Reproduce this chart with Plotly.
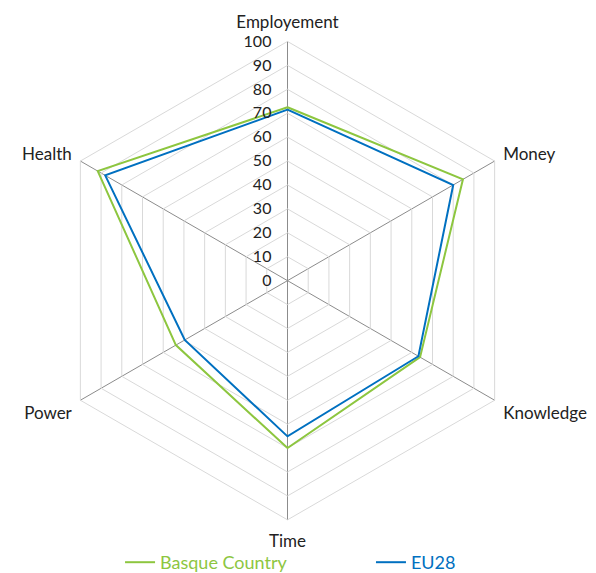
import plotly.graph_objects as go

categories = ["Employement", "Money", "Knowledge", "Time", "Power", "Health"]
basque = [72.5, 84.7, 64.0, 70.0, 53.9, 91.6]
eu28 = [71.5, 80.0, 63.2, 65.1, 49.6, 88.0]
radial_ticks = [0, 10, 20, 30, 40, 50, 60, 70, 80, 90, 100]

GREEN = "#8DC63F"
BLUE = "#0070C0"
FONT = "Lato, 'Open Sans', sans-serif"

fig = go.Figure()
fig.add_trace(go.Scatterpolar(
    r=basque + basque[:1], theta=categories + categories[:1],
    mode="lines", line=dict(color=GREEN, width=2),
    name=f"<span style='color:{GREEN}'>Basque Country</span>",
    legend="legend", showlegend=True,
))
fig.add_trace(go.Scatterpolar(
    r=eu28 + eu28[:1], theta=categories + categories[:1],
    mode="lines", line=dict(color=BLUE, width=2),
    name=f"<span style='color:{BLUE}'>EU28</span>",
    legend="legend2", showlegend=True,
))

W, H = 596, 573
cx, cy, rad = 287 - 7.5, 282 - 5, 243
legend_common = dict(
    orientation="h", xanchor="left", y=0.016, yanchor="middle",
    font=dict(size=18), bgcolor="rgba(0,0,0,0)",
)
fig.update_layout(
    width=W, height=H,
    showlegend=True,
    margin=dict(l=0, r=0, t=0, b=0),
    paper_bgcolor="white", plot_bgcolor="white",
    font=dict(family=FONT, size=17, color="#222222"),
    polar=dict(
        domain=dict(x=[(cx - rad) / W, (cx + rad) / W],
                    y=[1 - (cy + rad) / H, 1 - (cy - rad) / H]),
        bgcolor="white",
        gridshape="linear",
        angularaxis=dict(
            direction="clockwise", rotation=90,
            showline=True, linecolor="#d9d9d9", linewidth=1,
            gridcolor="#8c8c8c", gridwidth=1,
            ticks="outside", ticklen=6, tickcolor="rgba(0,0,0,0)",
            tickfont=dict(size=17, color="#222222"),
        ),
        radialaxis=dict(
            range=[0, 100], tickvals=radial_ticks, ticktext=[str(v) for v in radial_ticks],
            angle=90, tickangle=90, side="counterclockwise",
            showline=False, ticks="outside", ticklen=10, tickcolor="rgba(0,0,0,0)",
            gridcolor="#d9d9d9", gridwidth=1,
            tickfont=dict(size=16, color="#222222"),
        ),
    ),
    legend=dict(x=0.188, **legend_common),
    legend2=dict(x=0.609, **legend_common),
)

fig.write_html("out.html")
